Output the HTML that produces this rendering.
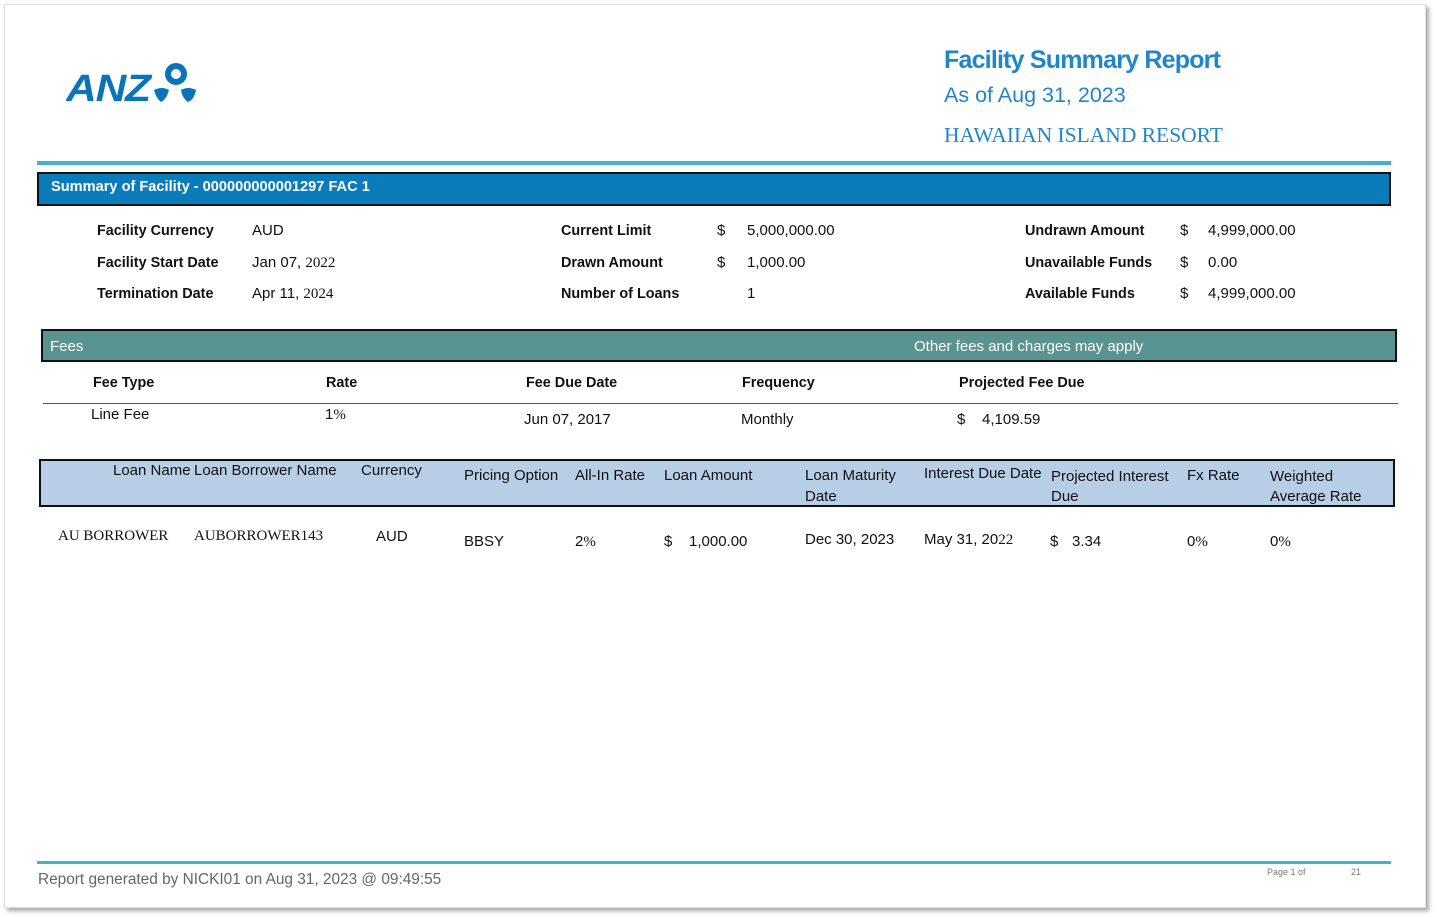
<!DOCTYPE html>
<html><head><meta charset="utf-8"><style>
*{margin:0;padding:0;box-sizing:border-box}
body{width:1437px;height:917px;background:#fff;position:relative;overflow:hidden;font-family:"Liberation Sans",Arial,sans-serif;color:#111}
.page{position:absolute;left:4px;top:4px;width:1422px;height:904px;background:#fff;border:1px solid #ddd;box-shadow:3px 3px 4px #aaa}
.a{position:absolute;white-space:nowrap}
.b{font-weight:bold;font-size:14.4px}
.t{font-size:15px}
.s{font-family:"Liberation Serif",serif}
</style></head><body>
<div class="page"></div>
<svg class="a" style="left:66px;top:62px" width="132" height="42" viewBox="0 0 132 42">
<text x="0" y="39" font-family="Liberation Sans" font-weight="bold" font-style="italic" font-size="38" fill="#0a74b8" letter-spacing="-1" textLength="84" lengthAdjust="spacingAndGlyphs">ANZ</text>
<circle cx="110" cy="12" r="8" fill="none" stroke="#0a74b8" stroke-width="6"/>
<path d="M88 28 Q96 24 103 28 Q100 38 95 40 Q90 36 88 28Z" fill="#0a74b8"/>
<path d="M115 28 Q122 24 130 28 Q128 38 122 40 Q116 36 115 28Z" fill="#0a74b8"/>
</svg>
<div class="a" style="left:944px;top:46px;font-size:25px;font-weight:bold;color:#1f86c8;letter-spacing:-0.8px">Facility Summary Report</div>
<div class="a" style="left:944px;top:83px;font-size:21.5px;color:#1f86c8">As of Aug 31, 2023</div>
<div class="a s" style="left:944px;top:123px;font-size:21.5px;color:#1f86c8">HAWAIIAN ISLAND RESORT</div>
<div class="a" style="left:37px;top:161px;width:1354px;height:4px;background:#4aaecd"></div>
<div class="a" style="left:37px;top:172px;width:1354px;height:34px;background:#0b7cbb;border:2px solid #111"></div>
<div class="a" style="left:51px;top:179px;font-size:14.6px;font-weight:bold;color:#fff">Summary of Facility - 000000000001297 FAC 1</div>

<div class="a b" style="left:97px;top:223px">Facility Currency</div>
<div class="a b" style="left:97px;top:255px">Facility Start Date</div>
<div class="a b" style="left:97px;top:286px">Termination Date</div>
<div class="a t" style="left:252px;top:222px">AUD</div>
<div class="a t" style="left:252px;top:254px">Jan 07, <span class="s">2022</span></div>
<div class="a t" style="left:252px;top:285px">Apr 11, <span class="s">2024</span></div>
<div class="a b" style="left:561px;top:223px">Current Limit</div>
<div class="a b" style="left:561px;top:255px">Drawn Amount</div>
<div class="a b" style="left:561px;top:286px">Number of Loans</div>
<div class="a t" style="left:717px;top:222px">$</div><div class="a t" style="left:747px;top:222px">5,000,000.00</div>
<div class="a t" style="left:717px;top:254px">$</div><div class="a t" style="left:747px;top:254px">1,000.00</div>
<div class="a t" style="left:747px;top:285px">1</div>
<div class="a b" style="left:1025px;top:223px">Undrawn Amount</div>
<div class="a b" style="left:1025px;top:255px">Unavailable Funds</div>
<div class="a b" style="left:1025px;top:286px">Available Funds</div>
<div class="a t" style="left:1180px;top:222px">$</div><div class="a t" style="left:1208px;top:222px">4,999,000.00</div>
<div class="a t" style="left:1180px;top:254px">$</div><div class="a t" style="left:1208px;top:254px">0.00</div>
<div class="a t" style="left:1180px;top:285px">$</div><div class="a t" style="left:1208px;top:285px">4,999,000.00</div>

<div class="a" style="left:41px;top:329px;width:1356px;height:33px;background:#5a9490;border:2px solid #111"></div>
<div class="a t" style="left:50px;top:338px;color:#fff">Fees</div>
<div class="a t" style="left:914px;top:338px;color:#fff">Other fees and charges may apply</div>
<div class="a b" style="left:93px;top:375px">Fee Type</div>
<div class="a b" style="left:326px;top:375px">Rate</div>
<div class="a b" style="left:526px;top:375px">Fee Due Date</div>
<div class="a b" style="left:742px;top:375px">Frequency</div>
<div class="a b" style="left:959px;top:375px">Projected Fee Due</div>
<div class="a" style="left:43px;top:403px;width:1355px;height:1px;background:#555"></div>
<div class="a t" style="left:91px;top:406px">Line Fee</div>
<div class="a t" style="left:325px;top:406px">1<span class="s">%</span></div>
<div class="a t" style="left:524px;top:411px">Jun 07, 2017</div>
<div class="a t" style="left:741px;top:411px">Monthly</div>
<div class="a t" style="left:957px;top:411px">$</div><div class="a t" style="left:982px;top:411px">4,109.59</div>

<div class="a" style="left:39px;top:459px;width:1356px;height:48px;background:#b8cde6;border:2px solid #111"></div>
<div class="a t" style="left:113px;top:462px">Loan Name</div>
<div class="a t" style="left:194px;top:462px">Loan Borrower Name</div>
<div class="a t" style="left:361px;top:462px">Currency</div>
<div class="a t" style="left:464px;top:467px">Pricing Option</div>
<div class="a t" style="left:575px;top:467px">All-In Rate</div>
<div class="a t" style="left:664px;top:467px">Loan Amount</div>
<div class="a t" style="left:805px;top:465px;line-height:21px">Loan Maturity<br>Date</div>
<div class="a t" style="left:924px;top:465px">Interest Due Date</div>
<div class="a t" style="left:1051px;top:467px;line-height:20px">Projected Interest<br>Due</div>
<div class="a t" style="left:1187px;top:467px">Fx Rate</div>
<div class="a t" style="left:1270px;top:467px;line-height:20px">Weighted<br>Average Rate</div>

<div class="a s" style="left:58px;top:528px;font-size:15px">AU BORROWER</div>
<div class="a s" style="left:194px;top:528px;font-size:15px">AUBORROWER143</div>
<div class="a t" style="left:376px;top:528px">AUD</div>
<div class="a t" style="left:464px;top:533px">BBSY</div>
<div class="a t" style="left:575px;top:533px">2<span class="s">%</span></div>
<div class="a t" style="left:664px;top:533px">$</div><div class="a t" style="left:689px;top:533px">1,000.00</div>
<div class="a t" style="left:805px;top:531px">Dec 30, 2023</div>
<div class="a t" style="left:924px;top:531px">May 31, 20<span class="s">22</span></div>
<div class="a t" style="left:1050px;top:533px">$</div><div class="a t" style="left:1072px;top:533px">3.34</div>
<div class="a t" style="left:1187px;top:533px">0<span class="s">%</span></div>
<div class="a t" style="left:1270px;top:533px">0<span class="s">%</span></div>

<div class="a" style="left:37px;top:861px;width:1354px;height:3px;background:#4aaecd"></div>
<div class="a" style="left:38px;top:871px;font-size:15.4px;color:#666">Report generated by NICKI01 on Aug 31, 2023 @ 09:49:55</div>
<div class="a" style="left:1267px;top:867px;font-size:9px;color:#777">Page 1 of</div>
<div class="a" style="left:1351px;top:867px;font-size:9px;color:#777">21</div>
</body></html>
